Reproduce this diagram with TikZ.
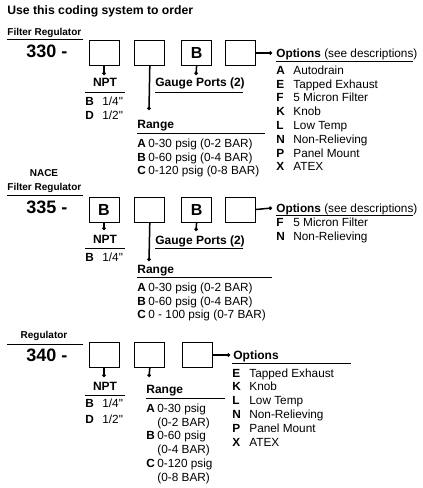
\documentclass[tikz,border=0pt]{standalone}
\usepackage{fontspec}
\setmainfont{Liberation Sans}
\newfontfamily\plainfont{Liberation Sans}
\newcommand{\inch}{{\plainfont"}}
\usepackage{array}
\usetikzlibrary{arrows.meta, positioning}
\tikzstyle{order}=[x=1pt, y=-1pt, inner sep=0pt, line width=.8pt]
\tikzstyle{slot}=[draw, minimum width=30pt, minimum height=25pt, font=\bfseries\fontsize{16}{18}\selectfont]
\tikzstyle{lead}=[line width=1.5pt, -{Circle[length=3.4pt]}]
\tikzstyle{txt}=[anchor=base west, font=\fontsize{11.8}{13.8}\selectfont]
\tikzstyle{head}=[anchor=base west, font=\bfseries\fontsize{12}{14}\selectfont]
\tikzstyle{series}=[anchor=base west, font=\bfseries\fontsize{10}{12}\selectfont]
\tikzstyle{model}=[anchor=base west, font=\bfseries\fontsize{18}{20}\selectfont]

\begin{document}
\begin{tikzpicture}[order]
  \useasboundingbox (0,0) rectangle (423,488);
  \node[head, font=\bfseries\fontsize{12.2}{14}\selectfont] (title) at (7,14.4) {Use this coding system to order};

  % 330 filter regulator
  \node[series] (fr1) at (7,35.6) {Filter Regulator};
  \draw (7,39) -- (83,39);
  \node[model] (m330) at (26,57.5) {330 -};
  \node[slot] (a1) at (104,53) {};
  \node[slot] (a2) [right=15pt of a1] {};
  \node[slot] (a3) [right=16pt of a2] {B};
  \node[slot] (a4) [right=13pt of a3] {};
  \coordinate (a1end) at (104,75);
  \coordinate (a2end) at (149,110);
  \coordinate (a3end) at (196,75);
  \coordinate (a4end) at (272,53);
  \draw[lead] (a1.south) -- (a1end);
  \draw[lead] (a2.south) -- (a2end);
  \draw[lead] (a3.south) -- (a3end);
  \draw[lead] (a4.east) -- (a4end);
  \node[head, anchor=base] (npt1) at (105,86.3) {NPT};
  \draw (85,92) -- (125,92);
  \node[txt] (nptlist1) at (85,105.3) {\begin{tabular}[t]{@{}>{\bfseries}p{17pt}@{}l@{}}
    B & 1/4\inch\\ D & 1/2\inch\end{tabular}};
  \node[head] (gauge1) at (155,86.3) {Gauge Ports (2)};
  \draw (155,92) -- (243,92);
  \node[head] (range1) at (137,128.3) {Range};
  \draw (137,133) -- (265,133);
  \node[txt] (rangelist1) at (137,147.2) {\begin{tabular}[t]{@{}>{\bfseries}p{11pt}@{}l@{}}
    A & 0-30 psig (0-2 BAR)\\ B & 0-60 psig (0-4 BAR)\\ C & 0-120 psig (0-8 BAR)\end{tabular}};
  \node[txt] (opt1) at (276,57.3) {\textbf{Options} (see descriptions)};
  \draw (276,61) -- (413,61);
  \node[txt] (optlist1) at (276,74.3) {\begin{tabular}[t]{@{}>{\bfseries}p{17pt}@{}l@{}}
    A & Autodrain\\ E & Tapped Exhaust\\ F & 5 Micron Filter\\ K & Knob\\
    L & Low Temp\\ N & Non-Relieving\\ P & Panel Mount\\ X & ATEX\end{tabular}};

  % 335 NACE filter regulator
  \node[series, anchor=base] (nace) at (44,176.6) {NACE};
  \node[series] (fr2) at (7,190.6) {Filter Regulator};
  \draw (7,195) -- (83,195);
  \node[model] (m335) at (26,213.5) {335 -};
  \node[slot] (b1) at (104,209.5) {B};
  \node[slot] (b2) [right=15pt of b1] {};
  \node[slot] (b3) [right=16pt of b2] {B};
  \node[slot] (b4) [right=13pt of b3] {};
  \coordinate (b1end) at (104,230);
  \coordinate (b2end) at (149,261);
  \coordinate (b3end) at (196,231);
  \coordinate (b4end) at (272,208);
  \draw[lead] (b1.south) -- (b1end);
  \draw[lead] (b2.south) -- (b2end);
  \draw[lead] (b3.south) -- (b3end);
  \draw[lead] (b4.east) -- (b4end);
  \node[head, anchor=base] (npt2) at (105,243.3) {NPT};
  \draw (85,248) -- (125,248);
  \node[txt] (nptlist2) at (85,261.3) {\begin{tabular}[t]{@{}>{\bfseries}p{17pt}@{}l@{}}
    B & 1/4\inch\end{tabular}};
  \node[head] (gauge2) at (155,244.3) {Gauge Ports (2)};
  \draw (155,248) -- (243,248);
  \node[head] (range2) at (137,273.3) {Range};
  \draw (137,277) -- (272,277);
  \node[txt] (rangelist2) at (137,291.3) {\begin{tabular}[t]{@{}>{\bfseries}p{11pt}@{}l@{}}
    A & 0-30 psig (0-2 BAR)\\ B & 0-60 psig (0-4 BAR)\\ C & 0 - 100 psig (0-7 BAR)\end{tabular}};
  \node[txt] (opt2) at (276,212.3) {\textbf{Options} (see descriptions)};
  \draw (276,215) -- (413,215);
  \node[txt] (optlist2) at (276,226.3) {\begin{tabular}[t]{@{}>{\bfseries}p{17pt}@{}l@{}}
    F & 5 Micron Filter\\ N & Non-Relieving\end{tabular}};

  % 340 regulator
  \node[series, anchor=base] (reg) at (44,338.6) {Regulator};
  \draw (7,344) -- (83,344);
  \node[model] (m340) at (26,361.5) {340 -};
  \node[slot] (c1) at (104,355) {};
  \node[slot] (c2) [right=15pt of c1] {};
  \node[slot] (c3) [right=17pt of c2] {};
  \coordinate (c1end) at (104,377);
  \coordinate (c2end) at (149,377);
  \coordinate (c3end) at (230,355);
  \draw[lead] (c1.south) -- (c1end);
  \draw[lead] (c2.south) -- (c2end);
  \draw[lead] (c3.east) -- (c3end);
  \node[head, anchor=base] (npt3) at (105,390.3) {NPT};
  \draw (85,395) -- (125,395);
  \node[txt] (nptlist3) at (85,407.5) {\begin{tabular}[t]{@{}>{\bfseries}p{17pt}@{}l@{}}
    B & 1/4\inch\\[1.8pt] D & 1/2\inch\end{tabular}};
  \node[head] (range3) at (146,393.3) {Range};
  \draw (146,398) -- (225,398);
  \node[txt] (rangelist3) at (146,412.2) {\begin{tabular}[t]{@{}>{\bfseries}p{11pt}@{}l@{}}
    A & 0-30 psig\\ & (0-2 BAR)\\ B & 0-60 psig\\ & (0-4 BAR)\\ C & 0-120 psig\\ & (0-8 BAR)\end{tabular}};
  \node[head] (opt3) at (233,359.3) {Options};
  \draw (232,363) -- (351,363);
  \node[txt] (optlist3) at (232,377) {\begin{tabular}[t]{@{}>{\bfseries}p{17pt}@{}l@{}}
    E & Tapped Exhaust\\ K & Knob\\ L & Low Temp\\ N & Non-Relieving\\
    P & Panel Mount\\ X & ATEX\end{tabular}};
\end{tikzpicture}
\end{document}
